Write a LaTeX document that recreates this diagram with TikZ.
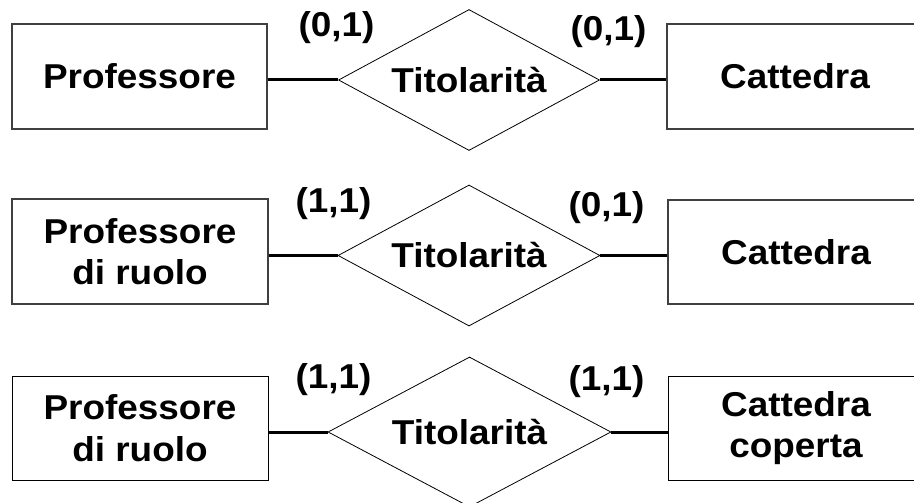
\documentclass[tikz,border=0pt]{standalone}
\usepackage{fontspec}
\setmainfont[FakeStretch=1.07]{Liberation Sans}
\usetikzlibrary{shapes.geometric}
\begin{document}
\begin{tikzpicture}[x=1pt,y=-1pt,
  every node/.style={font=\fontsize{34.5}{41.5}\selectfont\bfseries},
  entity/.style={draw=black!75,line width=1.1pt,rectangle,inner sep=0pt,align=center},
  entityb/.style={draw=black,line width=0.9pt,rectangle,inner sep=0pt,align=center},
  rel/.style={draw=black,line width=0.8pt,diamond,inner sep=0pt},
  card/.style={inner sep=0pt},
  conn/.style={draw=black,line width=3pt}]
\useasboundingbox (0,0) rectangle (914,503);
\clip (0,0) rectangle (914,503);
% row 1
\node[entity,minimum width=255pt,minimum height=105pt] (p1) at (139.5,76.5) {Professore};
\node[entity,minimum width=256pt,minimum height=105pt] (c1) at (795,76.5) {Cattedra};
\node[rel,minimum width=261pt,minimum height=141pt,aspect=1.85] (d1) at (469,80) {Titolarità};
\node[card] (l1) at (336.5,27.5) {(0,1)};
\node[card] (r1) at (608.5,32) {(0,1)};
\draw[conn] (p1.east |- d1.west) -- (d1.west);
\draw[conn] (d1.east) -- (d1.east -| c1.west);
% row 2
\node[entity,minimum width=256pt,minimum height=105pt] (p2) at (140,251.5) {Professore\\di ruolo};
\node[entity,minimum width=256pt,minimum height=104pt] (c2) at (796,252) {Cattedra};
\node[rel,minimum width=262pt,minimum height=141pt,aspect=1.85] (d2) at (469,255.5) {Titolarità};
\node[card] (l2) at (333.5,204) {(1,1)};
\node[card] (r2) at (606.5,208) {(0,1)};
\draw[conn] (p2.east |- d2.west) -- (d2.west);
\draw[conn] (d2.east) -- (d2.east -| c2.west);
% row 3
\node[entityb,minimum width=256pt,minimum height=104pt] (p3) at (140,428) {Professore\\di ruolo};
\node[entityb,minimum width=256pt,minimum height=104pt] (c3) at (796,428) {Cattedra\\coperta};
\node[rel,minimum width=283pt,minimum height=150pt,aspect=1.89] (d3) at (469.5,432) {Titolarità};
\node[card] (l3) at (333.5,380) {(1,1)};
\node[card] (r3) at (606.5,382) {(1,1)};
\draw[conn] (p3.east |- d3.west) -- (d3.west);
\draw[conn] (d3.east) -- (d3.east -| c3.west);
\end{tikzpicture}
\end{document}
